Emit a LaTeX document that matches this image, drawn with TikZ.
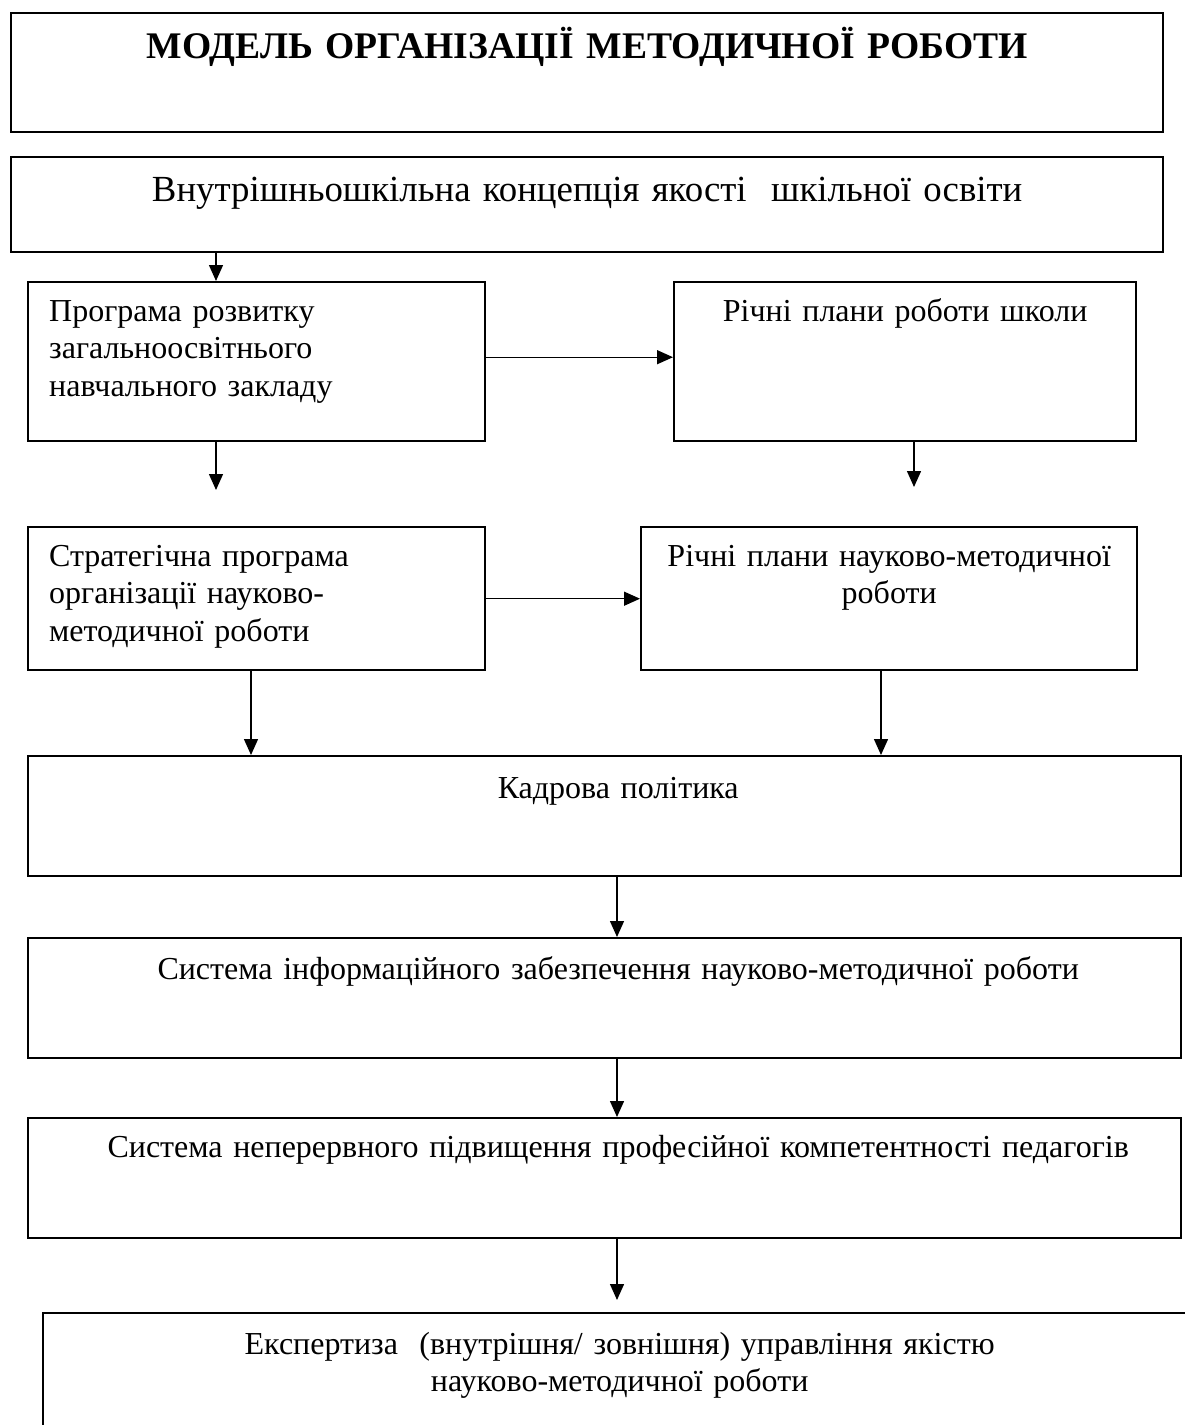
\documentclass[tikz,border=0pt]{standalone}
\usepackage{fontspec}
\setmainfont{Liberation Serif}
\usetikzlibrary{arrows.meta, positioning}

\begin{document}
\begin{tikzpicture}[x=0.5pt, y=-0.5pt,
  every node/.style={font=\fontsize{16}{18.75}\selectfont},
  blok/.style={draw, line width=1.2pt, anchor=north west,
               inner xsep=5pt, inner ysep=0pt},
  big/.style={font=\fontsize{18.4}{21}\selectfont},
  arrow/.style={-{Triangle[length=8pt, width=7pt]}, line width=0.7pt}
]
  \useasboundingbox (0,0) rectangle (1184,1425);

  % upper blocks
  \node[blok, font={\bfseries\fontsize{18.8}{21}\selectfont}, text width=566pt,
        align=center, text height=22.5pt, text depth=37pt] (model) at (10,12)
    {МОДЕЛЬ ОРГАНІЗАЦІЇ МЕТОДИЧНОЇ РОБОТИ};
  \node[blok, big, text width=566pt, align=center,
        text height=22pt, text depth=25.5pt] (koncep) at (10,156)
    {Внутрішньошкільна концепція якості \ шкільної освіти};

  \node[blok, inner xsep=10.5pt, text width=207.5pt, align=left,
        text height=19.5pt, text depth=60pt] (prohrama) at (27,281)
    {Програма розвитку\\загальноосвітнього\\навчального закладу};
  \node[blok, text width=221pt, align=center,
        text height=19.5pt, text depth=60pt] (richplan) at (673,281)
    {Річні плани роботи школи};

  \node[blok, inner xsep=10.5pt, text width=207.5pt, align=left,
        text height=19.5pt, text depth=52pt] (stratehia) at (27,526)
    {Стратегічна програма\\організації науково-\\методичної роботи};
  \node[blok, text width=238pt, align=center,
        text height=19.5pt, text depth=52pt] (richnmr) at (640,526)
    {Річні плани науково-методичної\\роботи};

  % lower blocks
  \node[blok, text width=566.5pt, align=center,
        text height=21pt, text depth=39pt] (kadry) at (27,755)
    {\hspace*{13.5pt}Кадрова політика};
  \node[blok, text width=566.5pt, align=center,
        text height=20.5pt, text depth=39.5pt] (inform) at (27,937)
    {\hspace*{13.5pt}Система інформаційного забезпечення науково-методичної роботи};
  \node[blok, text width=566.5pt, align=center,
        text height=19.5pt, text depth=40.5pt] (kompet) at (27,1117)
    {\hspace*{13.5pt}Система неперервного підвищення професійної компетентності педагогів};
  \node[blok, text width=566.5pt, align=center,
        text height=20.5pt, text depth=79.5pt] (ekspert) at (42,1312)
    {Експертиза \ (внутрішня/ зовнішня) управління якістю\\науково-методичної роботи};

  % guide points for the connectors
  \coordinate (xa) at (216,0);
  \coordinate (xb) at (251,0);
  \coordinate (xc) at (881,0);
  \coordinate (xm) at (617,0);
  \coordinate (endprog) at (216,490);
  \coordinate (endplan) at (914,487);

  \draw[arrow] (koncep.south -| xa) -- (prohrama.north -| xa);
  \draw[arrow] ([yshift=2.25pt]prohrama.east) -- ([yshift=2.25pt]richplan.west);
  \draw[arrow] (prohrama.south -| endprog) -- (endprog);
  \draw[arrow] (richplan.south -| endplan) -- (endplan);
  \draw[arrow] (stratehia.east) -- (richnmr.west);
  \draw[arrow] (stratehia.south -| xb) -- (kadry.north -| xb);
  \draw[arrow] (richnmr.south -| xc) -- (kadry.north -| xc);
  \draw[arrow] (kadry.south -| xm) -- (inform.north -| xm);
  \draw[arrow] (inform.south -| xm) -- (kompet.north -| xm);
  \draw[arrow, shorten >=6pt] (kompet.south -| xm) -- (ekspert.north -| xm);

\end{tikzpicture}
\end{document}
